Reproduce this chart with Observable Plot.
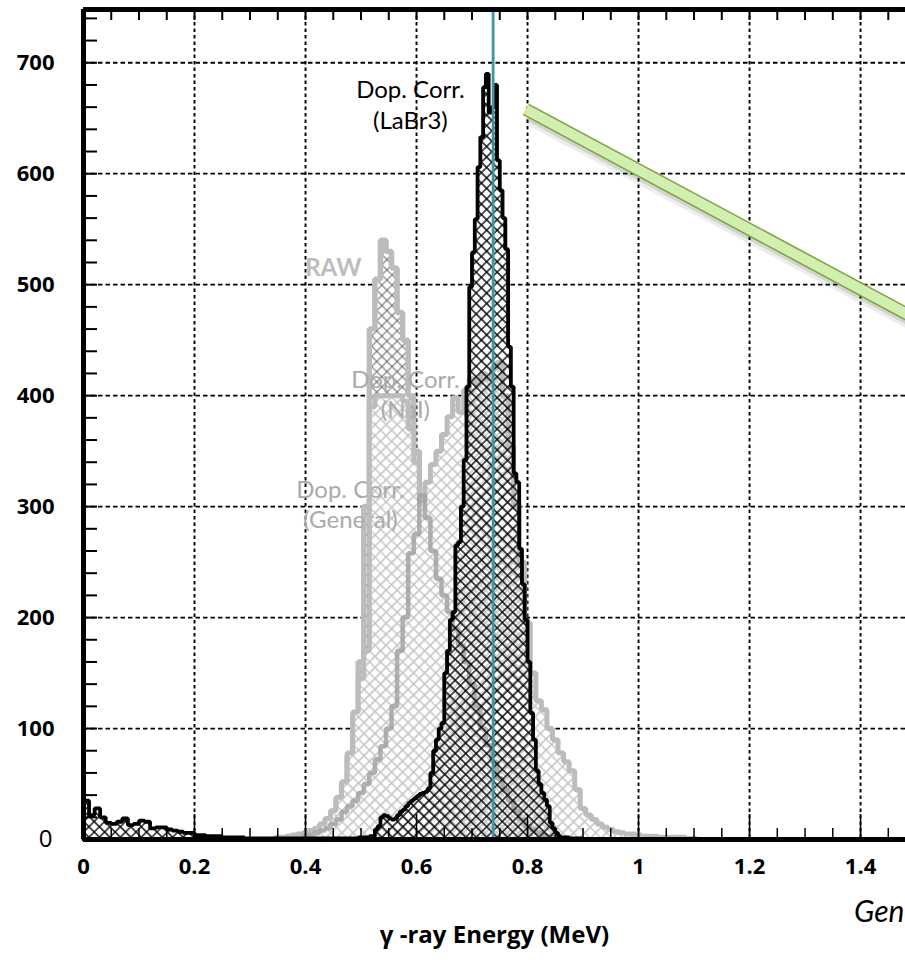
<!DOCTYPE html>
<html>
<head>
<meta charset="utf-8">
<script src="https://cdn.jsdelivr.net/npm/d3@7"></script>
<script src="https://cdn.jsdelivr.net/npm/@observablehq/plot@0.6"></script>
<style>
  html, body { margin: 0; padding: 0; background: #fff; }
  #chart svg { display: block; }
</style>
</head>
<body>
<div id="chart"></div>
<script>
// ---------------- data ----------------
const xTicks = [0, 0.2, 0.4, 0.6, 0.8, 1, 1.2, 1.4];
const xGrid = [0.2, 0.4, 0.6, 0.8, 1, 1.2, 1.4];
const yTicks = [100, 200, 300, 400, 500, 600, 700];
const yZeroTick = [0];
const photopeakEnergy = [0.738];

// Dop. Corr. (LaBr3): low-energy part, 0.01 MeV bins from 0
const labr3LowStart = 0.0, labr3LowWidth = 0.01;
const labr3Low = [35,22,28,20,15,14,16,19,13,14,17,16,10,11,11,9,8,7,6,6,
                  4,4,3,3,3,2,2,2,2,1,1,1,1,1,1,1,1,1,1,1,1,1,1,1,1,1,1,1,1];
// Dop. Corr. (LaBr3): peak part, 0.005 MeV bins from 0.49
const labr3PeakStart = 0.49, labr3PeakWidth = 0.005;
const labr3Peak = [1,2,2,2,2,3,3,9,12,20,22,21,19,18,19,22,25,27,30,33,35,37,39,41,42,43,
                   46,60,80,90,100,105,150,170,198,205,265,268,300,342,408,498,529,559,606,633,
                   678,690,655,660,680,612,585,560,532,444,408,330,322,262,230,198,160,114,90,62,
                   50,42,36,30,15,10,6,3,2,2,2,1,1,1,1,1];

// RAW, 0.01 MeV bins
const rawStart = 0.435, rawWidth = 0.01;
const raw = [15,22,35,50,75,110,160,300,460,505,540,530,515,475,450,400,350,300,230,170,
             120,85,60,40,28,18,10,6,3];

// Dop. Corr. (NaI), 0.01 MeV bins
const naiStart = 0.345, naiWidth = 0.01;
const nai = [2,2,3,4,5,6,8,10,14,19,26,38,52,78,115,145,170,390,400,400,
             400,400,400,395,370,340,305,322,338,350,365,381,398,385,405,415,410,420,415,425,
             430,400,354,300,250,195,150,125,117,100,90,78,70,62,45,28,22,18,14,11,
             9,7,6,5,5,4,3,3,3,2,2,2,2,2,1,1];

// Dop. Corr. (General), 0.01 MeV bins
const generalStart = 0.395, generalWidth = 0.01;
const general = [3,4,6,8,10,14,18,25,30,35,42,50,60,72,84,100,120,170,200,258,
                 275,310,290,260,235,220,205,190,175,160,140,120,100,85,70,55,45,35,26,18,
                 12,9,6,4,3,2];

// annotation pointer (green bar), in data units
const pointerX = [0.797, 1.56];
const pointerY = [658, 453];

// ---------------- helpers ----------------
const toBins = (start, width, counts) =>
  counts.map((c, i) => ({x1: start + i * width, x2: start + (i + 1) * width, y: c}));
const stepPoints = (b) => {
  const last = b[b.length - 1];
  return [{x: b[0].x1, y: 0}, ...b.map(d => ({x: d.x1, y: d.y})), {x: last.x2, y: last.y}, {x: last.x2, y: 0}];
};

const labPts = stepPoints([...toBins(labr3LowStart, labr3LowWidth, labr3Low),
                           ...toBins(labr3PeakStart, labr3PeakWidth, labr3Peak)]);
const rawPts = stepPoints(toBins(rawStart, rawWidth, raw));
const naiPts = stepPoints(toBins(naiStart, naiWidth, nai));
const genPts = stepPoints(toBins(generalStart, generalWidth, general));
const pointer = pointerX.map((x, i) => ({x, y: pointerY[i]}));

// ---------------- defs (hatch patterns) ----------------
const defsMark = () => {
  const d = d3.create("svg:defs");
  const hatch = (id, color, w, s, bg) => {
    const p = d.append("pattern").attr("id", id)
      .attr("patternUnits", "userSpaceOnUse")
      .attr("width", s).attr("height", s)
      .attr("patternTransform", "rotate(45)");
    if (bg) p.append("rect").attr("width", s).attr("height", s).attr("fill", bg);
    p.append("path").attr("d", `M0,${s/2}H${s}M${s/2},0V${s}`)
      .attr("stroke", color).attr("stroke-width", w).attr("fill", "none");
  };
  hatch("hatchBlack", "#000", 1.3, 7.4, null);
  hatch("hatchLight", "#c6c6c6", 1.6, 7.8, "#fff");
  hatch("hatchDark", "#555", 0.9, 7.2, null);
  return d.node();
};

const step = {x: "x", y: "y", curve: "step-after"};
const labelFont = "Lato, 'Open Sans', sans-serif";
const tickFont = "'Open Sans', 'DejaVu Sans', sans-serif";

const chart = Plot.plot({
  width: 905,
  height: 962,
  marginLeft: 83,
  marginRight: 0,
  marginTop: 9,
  marginBottom: 123,
  x: {domain: [0, 1.481]},
  y: {domain: [0, 748]},
  style: {background: "white", fontFamily: tickFont, color: "black"},
  marks: [
    defsMark,
    // grid
    Plot.ruleX(xGrid, {stroke: "black", strokeWidth: 1.9, strokeDasharray: "3.5,3"}),
    Plot.ruleY(yTicks, {stroke: "black", strokeWidth: 1.8, strokeDasharray: "4.5,3"}),
    // white under histograms
    Plot.areaY(rawPts, {...step, fill: "white"}),
    Plot.areaY(naiPts, {...step, fill: "white"}),
    Plot.areaY(genPts, {...step, fill: "white"}),
    Plot.areaY(labPts, {...step, fill: "white"}),
    // RAW
    Plot.areaY(rawPts, {...step, fill: "url(#hatchDark)"}),
    Plot.line(rawPts, {...step, stroke: "#bcbcbc", strokeWidth: 5.5, strokeLinejoin: "miter"}),
    // NaI
    Plot.areaY(naiPts, {...step, fill: "url(#hatchLight)"}),
    // gray labels
    Plot.text(["RAW"], {x: [0.45], y: [515], fill: "#bdbdbd", fontSize: 24, fontWeight: "bold", fontFamily: labelFont}),
    Plot.text(["Dop. Corr.\n(NaI)"], {x: [0.58], y: [402], fill: "#ababab", fontSize: 24, lineHeight: 1.25, fontFamily: labelFont}),
    Plot.text(["Dop. Corr.\n(General)"], {x: [0.481], y: [303], fill: "#ababab", fontSize: 24, lineHeight: 1.25, fontFamily: labelFont}),
    Plot.line(naiPts, {...step, stroke: "#bcbcbc", strokeWidth: 5, strokeLinejoin: "miter"}),
    // General
    Plot.line(genPts, {...step, stroke: "#a2a2a2", strokeWidth: 4.5, strokeOpacity: 0.85, strokeLinejoin: "miter"}),
    // LaBr3
    Plot.areaY(labPts, {...step, fill: "url(#hatchBlack)"}),
    Plot.line(labPts, {...step, stroke: "black", strokeWidth: 3.8, strokeLinejoin: "miter"}),
    // photopeak line
    Plot.ruleX(photopeakEnergy, {stroke: "#3a97ab", strokeWidth: 2.8}),
    // frame
    Plot.ruleY([0], {stroke: "black", strokeWidth: 5}),
    Plot.ruleY([748], {stroke: "black", strokeWidth: 5}),
    Plot.ruleX([0], {stroke: "black", strokeWidth: 5}),
    // minor ticks
    Plot.tickX(d3.range(0.05, 1.5, 0.05), {stroke: "black", strokeWidth: 1.5, insetTop: 819}),
    Plot.tickX(xGrid, {stroke: "black", strokeWidth: 1.5, insetTop: 805}),
    Plot.tickX(d3.range(0.05, 1.5, 0.05), {stroke: "black", strokeWidth: 2, insetBottom: 819}),
    Plot.tickY(d3.range(20, 748, 20), {stroke: "black", strokeWidth: 2, insetRight: 808}),
    // axes
    Plot.axisY(yTicks, {anchor: "left", tickSize: 0, tickPadding: 29, fontSize: 22, fontWeight: "bold", fontFamily: tickFont, label: null}),
    Plot.axisY(yZeroTick, {anchor: "left", tickSize: 0, tickPadding: 31, fontSize: 24, fontWeight: "normal", fontFamily: tickFont, label: null}),
    Plot.axisX(xTicks, {anchor: "bottom", tickSize: 0, tickPadding: 19, fontSize: 22, fontWeight: "bold", fontFamily: tickFont, tickFormat: d => String(d), label: null}),
    // axis title
    Plot.text(["γ -ray Energy (MeV)"], {frameAnchor: "bottom", dy: 103, fontSize: 24, fontWeight: "bold", fontFamily: tickFont, fill: "black"}),
    Plot.text(["Gen"], {frameAnchor: "bottom-right", dy: 82, dx: -1, textAnchor: "end", fontSize: 30, fontStyle: "italic", fontFamily: labelFont, fill: "black"}),
    // black label
    Plot.text(["Dop. Corr.\n(LaBr3)"], {x: [0.589], y: [663], fill: "black", fontSize: 24, lineHeight: 1.3, fontFamily: labelFont}),
    // green pointer bar: soft shadow, outline, fill
    Plot.line(pointer, {x: "x", y: "y", stroke: "black", strokeOpacity: 0.07, strokeWidth: 20, strokeLinecap: "butt", dx: 3, dy: 5, clip: true}),
    Plot.line(pointer, {x: "x", y: "y", stroke: "black", strokeOpacity: 0.1, strokeWidth: 15, strokeLinecap: "butt", dx: 3, dy: 4, clip: true}),
    Plot.line(pointer, {x: "x", y: "y", stroke: "#79a53a", strokeWidth: 13, strokeLinecap: "butt", clip: true}),
    Plot.line(pointer, {x: "x", y: "y", stroke: "#d3eeb1", strokeWidth: 10, strokeLinecap: "butt", clip: true})
  ]
});

document.getElementById("chart").appendChild(chart);
</script>
</body>
</html>
